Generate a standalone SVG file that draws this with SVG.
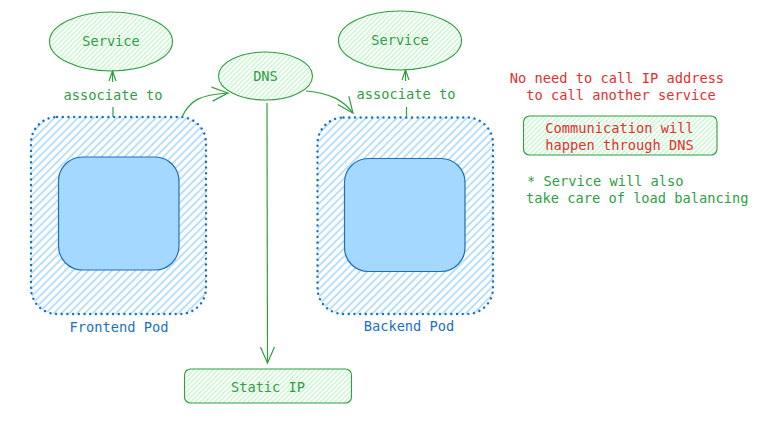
<svg xmlns="http://www.w3.org/2000/svg" width="757" height="423" viewBox="0 0 757 423">
<defs>
<pattern id="hg" patternUnits="userSpaceOnUse" width="3.4" height="3.4" patternTransform="rotate(45)"><line x1="0.8" y1="0" x2="0.8" y2="3.4" stroke="#b2f2bb" stroke-width="1"/></pattern>
<pattern id="hb" patternUnits="userSpaceOnUse" width="5.5" height="5.5" patternTransform="rotate(45)"><line x1="1" y1="0" x2="1" y2="5.5" stroke="#a5d8ff" stroke-width="1.5"/></pattern>
<marker id="ah" viewBox="0 0 20 20" refX="18" refY="10" markerWidth="20" markerHeight="20" markerUnits="userSpaceOnUse" orient="auto"><path d="M2 3 L18 10 L2 17" fill="none" stroke="#2f9e44" stroke-width="1.2"/></marker>
<marker id="ahs" viewBox="0 0 12 12" refX="11" refY="6" markerWidth="12" markerHeight="12" markerUnits="userSpaceOnUse" orient="auto"><path d="M1 2.5 L11 6 L1 9.5" fill="none" stroke="#2f9e44" stroke-width="1.2"/></marker>
</defs>
<style>
text{font-family:"DejaVu Sans Mono","Liberation Mono",monospace;font-size:13.7px}
.g{fill:#2f9e44}.r{fill:#e03131}.b{fill:#1971c2}
.gs{fill:url(#hg);stroke:#2f9e44;stroke-width:1.1}
.pod{fill:url(#hb);stroke:#1971c2;stroke-width:2.4;stroke-dasharray:0.1 5.6;stroke-linecap:round}
.inner{fill:#a5d8ff;stroke:#1971c2;stroke-width:1.2}
.c{fill:none;stroke:#2f9e44;stroke-width:1.2}
</style>
<g id="frontend-pod">
<rect class="pod" x="31" y="117" width="175" height="197" rx="26"/>
<rect class="inner" x="58.5" y="157" width="120.5" height="113" rx="24"/>
<text class="b" x="119" y="332" text-anchor="middle">Frontend Pod</text>
</g>
<g id="backend-pod">
<rect class="pod" x="317.5" y="117.5" width="175.5" height="196.5" rx="26"/>
<rect class="inner" x="344.5" y="158.5" width="120.5" height="113" rx="24"/>
<text class="b" x="409" y="331" text-anchor="middle">Backend Pod</text>
</g>
<g id="service-left">
<ellipse class="gs" cx="111" cy="41.5" rx="61.5" ry="29.5"/>
<text class="g" x="111" y="46" text-anchor="middle">Service</text>
</g>
<g id="service-right">
<ellipse class="gs" cx="400" cy="40.5" rx="61.5" ry="29.5"/>
<text class="g" x="400" y="45" text-anchor="middle">Service</text>
</g>
<g id="dns">
<ellipse class="gs" cx="265.5" cy="76" rx="47" ry="24"/>
<text class="g" x="265.5" y="81" text-anchor="middle">DNS</text>
</g>
<g id="static-ip">
<rect class="gs" x="184.5" y="369" width="167" height="34" rx="6"/>
<text class="g" x="268" y="392" text-anchor="middle">Static IP</text>
</g>
<g id="note-dns">
<text class="r" x="617" y="83" text-anchor="middle">No need to call IP address</text>
<text class="r" x="621" y="100" text-anchor="middle">to call another service</text>
</g>
<g id="communication">
<rect class="gs" x="523.5" y="116" width="193.5" height="39" rx="6"/>
<text class="r" x="619.5" y="133" text-anchor="middle">Communication will</text>
<text class="r" x="619.5" y="150" text-anchor="middle">happen through DNS</text>
</g>
<g id="note-service">
<text class="g" x="527" y="186">* Service will also</text>
<text class="g" x="526" y="203">take care of load balancing</text>
</g>
<g id="connectors">
<line class="c" x1="113" y1="117" x2="113" y2="107"/>
<line class="c" x1="112.5" y1="82" x2="112.5" y2="71" marker-end="url(#ahs)"/>
<text class="g" x="113" y="100" text-anchor="middle">associate to</text>
<line class="c" x1="406.5" y1="117" x2="406.5" y2="107"/>
<line class="c" x1="405.5" y1="81" x2="405.5" y2="70" marker-end="url(#ahs)"/>
<text class="g" x="406" y="99" text-anchor="middle">associate to</text>
<path class="c" d="M182 117 C190 100 200 95 228 93" marker-end="url(#ah)"/>
<path class="c" d="M306 91 C330 93 343 100 353 113" marker-end="url(#ah)"/>
<line class="c" x1="267" y1="103" x2="267.5" y2="363" marker-end="url(#ah)"/>
</g>
</svg>
